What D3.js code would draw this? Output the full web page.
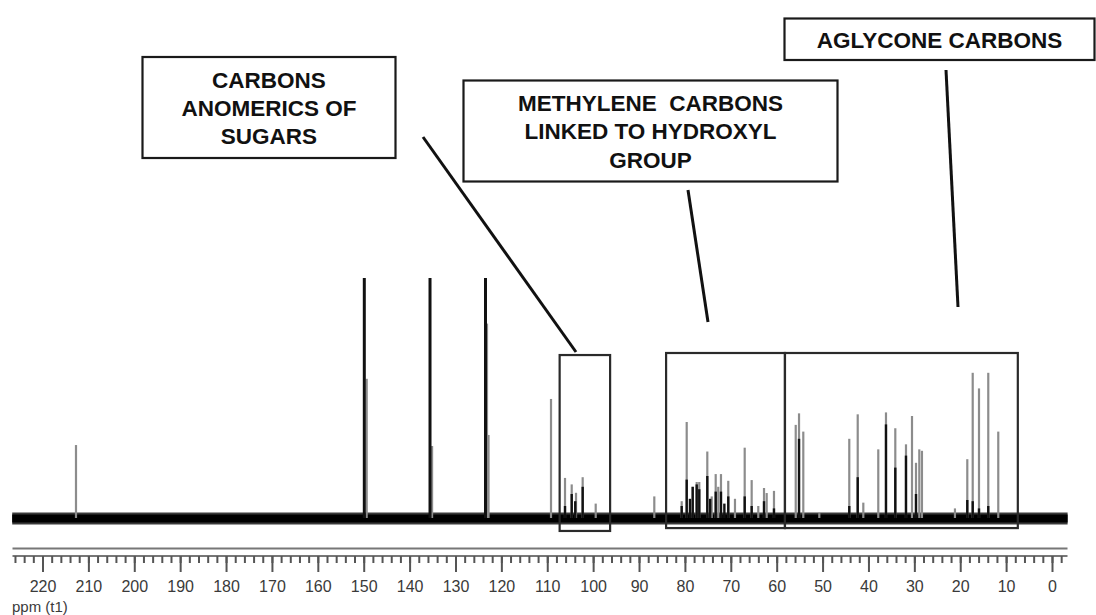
<!DOCTYPE html>
<html>
<head>
<meta charset="utf-8">
<script src="https://cdn.jsdelivr.net/npm/d3@7"></script>
<style>
  body { margin: 0; background: #fff; }
  svg { display: block; }
</style>
</head>
<body>
<div id="my_dataviz"></div>
<script>
// spectrum 1 (grey trace): [ppm, relative intensity]
var greyPeaks = [
  [212.7, 30.4],
  [149.35, 58], [135.1, 30], [123.13, 81], [122.8, 34.6],
  [109.18, 49.6],
  [106.13, 16.7], [104.67, 14], [103.73, 10.5], [102.28, 17], [99.44, 6],
  [86.67, 9],
  [80.70, 7], [79.61, 40], [78.30, 13], [77.43, 15], [76.87, 15], [75.12, 27.7],
  [74.16, 9], [73.29, 18.3], [72.73, 13], [72.14, 18.3], [70.55, 15.5], [69.09, 8],
  [66.97, 29.3], [65.45, 15.8], [64.01, 5], [62.76, 12.5], [62.18, 10.4], [60.59, 11.3],
  [55.85, 38.8], [55.13, 43.6], [54.20, 36],
  [50.71, 2],
  [44.18, 33], [42.34, 43.2], [41.12, 6.4], [37.86, 28.6], [36.18, 44], [34.15, 37.4],
  [31.82, 30.7], [30.51, 42.5], [29.64, 23], [28.92, 28.6], [28.34, 28],
  [21.15, 4],
  [18.46, 24.5], [17.28, 60.5], [15.91, 54], [13.89, 60.5], [11.71, 36]
];

// spectrum 2 (black trace)
var blackPeaks = [
  [149.87, 100], [135.55, 100], [123.46, 100],
  [106.13, 5], [104.67, 10], [103.9, 7], [102.28, 13],
  [80.70, 5], [79.61, 16], [78.9, 8], [78.30, 13], [77.43, 14], [76.87, 12], [75.12, 17.5],
  [74.5, 8], [73.29, 11], [72.14, 11], [71.4, 6], [70.55, 9], [66.97, 9], [65.45, 5],
  [62.76, 7], [60.59, 4],
  [55.13, 33],
  [44.18, 5], [42.34, 17], [36.18, 39], [34.15, 21], [31.82, 26], [29.64, 10],
  [18.46, 7.5], [17.28, 7], [15.91, 4], [13.89, 5]
];

// ppm tick labels
var majorTicks = d3.range(0, 221, 10);
var minorTicks = d3.range(-2, 227, 2);

// assignment regions: [from ppm, to ppm]
var regions = [
  { name: "anomeric", ppm: [107.3, 96.3], top: 67.9, bottom: -5.4 },
  { name: "methylene", ppm: [84.1, 58.2], top: 68.75, bottom: -4.2 },
  { name: "aglycone", ppm: [58.2, 7.45], top: 68.75, bottom: -4.2 }
];

var labelSugars = ["CARBONS", "ANOMERICS OF", "SUGARS"];
var labelMethylene = ["METHYLENE  CARBONS", "LINKED TO HYDROXYL", "GROUP"];
var labelAglycone = ["AGLYCONE CARBONS"];

var width = 1096, height = 615;

var svg = d3.select("#my_dataviz")
  .append("svg")
  .attr("width", width)
  .attr("height", height);

var x = d3.scaleLinear().domain([220, 0]).range([42.5, 1052]);
var y = d3.scaleLinear().domain([0, 100]).range([518, 278]);

// baseline noise band
svg.append("line")
  .attr("x1", x(226.6)).attr("x2", x(-3.4))
  .attr("y1", y(0) + 0.5).attr("y2", y(0) + 0.5)
  .style("stroke", "#3a3a3a").style("stroke-width", 12);
svg.append("line")
  .attr("x1", x(226.6)).attr("x2", x(-3.4))
  .attr("y1", y(0) + 0.5).attr("y2", y(0) + 0.5)
  .style("stroke", "#000").style("stroke-width", 8);

// grey trace
svg.append("g")
  .selectAll("line")
  .data(greyPeaks)
  .enter()
  .append("line")
  .attr("x1", function (d) { return x(d[0]); })
  .attr("x2", function (d) { return x(d[0]); })
  .attr("y1", y(0))
  .attr("y2", function (d) { return y(d[1]); })
  .style("stroke", "#8c8c8c")
  .style("stroke-width", 2.2);

// black trace
svg.append("g")
  .selectAll("line")
  .data(blackPeaks)
  .enter()
  .append("line")
  .attr("x1", function (d) { return x(d[0]); })
  .attr("x2", function (d) { return x(d[0]); })
  .attr("y1", y(0))
  .attr("y2", function (d) { return y(d[1]); })
  .style("stroke", "#111")
  .style("stroke-width", function (d) { return d[1] > 90 ? 3 : 2.4; });

// region boxes
svg.append("g")
  .selectAll("rect")
  .data(regions)
  .enter()
  .append("rect")
  .attr("x", function (d) { return x(d.ppm[0]); })
  .attr("y", function (d) { return y(d.top); })
  .attr("width", function (d) { return x(d.ppm[1]) - x(d.ppm[0]); })
  .attr("height", function (d) { return y(d.bottom) - y(d.top); })
  .style("fill", "none")
  .style("stroke", "#2a2a2a")
  .style("stroke-width", 2.2);

// axis: double rule + ticks
svg.append("line")
  .attr("x1", 12.5).attr("x2", 1067.5).attr("y1", 548.5).attr("y2", 548.5)
  .style("stroke", "#777").style("stroke-width", 2.2);
svg.append("line")
  .attr("x1", 12.5).attr("x2", 1067.5).attr("y1", 556).attr("y2", 556)
  .style("stroke", "#777").style("stroke-width", 2);

var minorAxis = svg.append("g")
  .attr("transform", "translate(0,556)")
  .call(d3.axisBottom(x).tickValues(minorTicks).tickSize(7).tickFormat(""));
var majorAxis = svg.append("g")
  .attr("transform", "translate(0,556)")
  .call(d3.axisBottom(x).tickValues(majorTicks).tickSize(16).tickPadding(9));

svg.selectAll(".domain").remove();
svg.selectAll(".tick line").style("stroke", "#555").style("stroke-width", 2);
majorAxis.selectAll("text")
  .style("font-family", "'Liberation Sans', Arial, sans-serif")
  .style("font-size", "16px")
  .style("fill", "#3a3a3a");

svg.append("text")
  .attr("x", 12)
  .attr("y", 612)
  .style("font-family", "'Liberation Sans', Arial, sans-serif")
  .style("font-size", "15px")
  .style("fill", "#3a3a3a")
  .text("ppm (t1)");

// annotation boxes
function labelBox(x0, y0, w, h, lines, cy, gap) {
  svg.append("rect")
    .attr("x", x0).attr("y", y0).attr("width", w).attr("height", h)
    .style("fill", "#fff").style("stroke", "#1a1a1a").style("stroke-width", 2.2);
  svg.append("g")
    .selectAll("text")
    .data(lines)
    .enter()
    .append("text")
    .attr("x", x0 + w / 2)
    .attr("y", function (d, i) { return cy + i * gap; })
    .attr("dy", "0.36em")
    .style("text-anchor", "middle")
    .style("white-space", "pre")
    .style("font-family", "'Liberation Sans', Arial, sans-serif")
    .style("font-weight", "bold")
    .style("font-size", "22.5px")
    .style("fill", "#111")
    .text(function (d) { return d; });
}

labelBox(142.5, 57, 253, 101, labelSugars, 79.5, 28);
labelBox(463.5, 80.5, 374, 101, labelMethylene, 103, 28.3);
labelBox(784.5, 18.5, 310, 41.5, labelAglycone, 39.5, 0);

// pointers
var pointers = [[[423, 137], [576, 352]], [[688, 190], [708, 322]], [[946, 70], [958, 307]]];
svg.append("g")
  .selectAll("line")
  .data(pointers)
  .enter()
  .append("line")
  .attr("x1", function (d) { return d[0][0]; })
  .attr("y1", function (d) { return d[0][1]; })
  .attr("x2", function (d) { return d[1][0]; })
  .attr("y2", function (d) { return d[1][1]; })
  .style("stroke", "#111")
  .style("stroke-width", 3);
</script>
</body>
</html>
